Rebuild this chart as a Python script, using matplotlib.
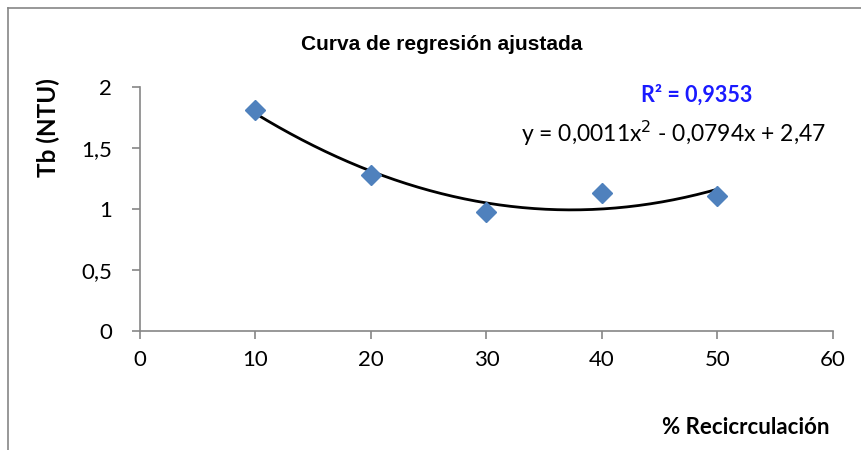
import numpy as np
import matplotlib
matplotlib.use("Agg")
import matplotlib.pyplot as plt
from matplotlib.lines import Line2D

recirc = [10, 20, 30, 40, 50]
tb = [1.81, 1.28, 0.975, 1.13, 1.11]
xticks = [0, 10, 20, 30, 40, 50, 60]
yticks = [0, 0.5, 1, 1.5, 2]
ylabels = ["0", "0,5", "1", "1,5", "2"]

plt.rcParams['font.family'] = ['Lato', 'DejaVu Sans']
fig = plt.figure(figsize=(8.62, 4.5), dpi=100)
ax = fig.add_axes([140/862, 1-331/450, (833-140)/862, (331-87)/450])

# second order trendline fitted on the points
coef = np.polyfit(recirc, tb, 2)
xs = np.linspace(10, 50, 200)
ax.plot(xs, np.polyval(coef, xs), color='black', linewidth=2, zorder=2)
ax.plot(recirc, tb, linestyle='none', marker='D', color='#4F81BD', markersize=10, zorder=3)

ax.set_xlim(0, 60)
ax.set_ylim(0, 2)
ax.set_xticks(xticks)
ax.set_yticks(yticks)
ax.set_yticklabels(ylabels)
for s in ['top', 'right']:
    ax.spines[s].set_visible(False)
for s in ['left', 'bottom']:
    ax.spines[s].set_color('#868686')
    ax.spines[s].set_linewidth(1.2)
ax.tick_params(axis='both', direction='out', length=6, color='#868686', width=1.2, labelsize=16)
ax.tick_params(axis='x', pad=8)
ax.tick_params(axis='y', pad=14)

fig.text(442/862, 1-44/450, 'Curva de regresión ajustada', ha='center', va='center', fontsize=15,
         fontweight='bold', family='Liberation Sans')
fig.text(48/862, 1-128/450, 'Tb (NTU)', ha='center', va='center', rotation=90, fontsize=17.5, fontweight='bold')
fig.text(746/862, 1-427/450, '% Recicrculación', ha='center', va='center', fontsize=16, fontweight='bold')
fig.text(697/862, 1-95/450, 'R² = 0,9353', ha='center', va='center', fontsize=15.5, fontweight='bold', color='#1A1AFF')
fig.text(673/862, 1-133/450, 'y = 0,0011x$^2$ - 0,0794x + 2,47', ha='center', va='center', fontsize=16.5)

fig.add_artist(Line2D([8/862, 1], [1-8/450, 1-8/450], color='#868686', linewidth=1.2))
fig.add_artist(Line2D([8/862, 8/862], [1-8/450, 0], color='#868686', linewidth=1.2))

fig.savefig('out.png', dpi=100)
